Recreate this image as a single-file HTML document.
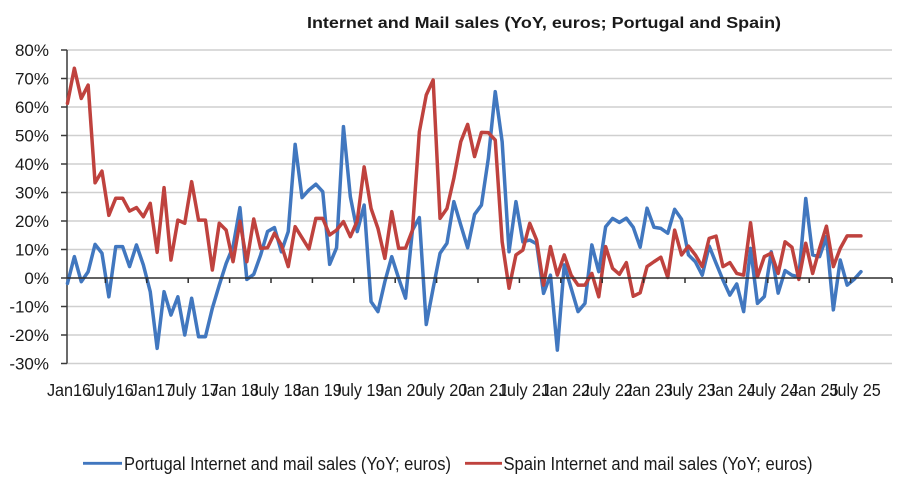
<!DOCTYPE html>
<html>
<head>
<meta charset="utf-8">
<style>
  html, body { margin: 0; padding: 0; background: #ffffff; }
  svg { display: block; }
  text { font-family: "Liberation Sans", Arial, sans-serif; fill: #1a1a1a; }
</style>
</head>
<body>
<svg width="910" height="490" viewBox="0 0 910 490" xmlns="http://www.w3.org/2000/svg">
  <rect x="0" y="0" width="910" height="490" fill="#ffffff"/>

  <!-- Title -->
  <text x="544" y="28" text-anchor="middle" font-size="16" font-weight="bold" textLength="474" lengthAdjust="spacingAndGlyphs">Internet and Mail sales (YoY, euros; Portugal and Spain)</text>

  <!-- Gridlines -->
  <g stroke="#cfcfcf" stroke-width="1.6">
    <line x1="67" y1="50" x2="892" y2="50"/>
    <line x1="67" y1="78.5" x2="892" y2="78.5"/>
    <line x1="67" y1="107" x2="892" y2="107"/>
    <line x1="67" y1="135.5" x2="892" y2="135.5"/>
    <line x1="67" y1="164" x2="892" y2="164"/>
    <line x1="67" y1="192.5" x2="892" y2="192.5"/>
    <line x1="67" y1="221" x2="892" y2="221"/>
    <line x1="67" y1="249.5" x2="892" y2="249.5"/>
    <line x1="67" y1="306.5" x2="892" y2="306.5"/>
    <line x1="67" y1="335" x2="892" y2="335"/>
    <line x1="67" y1="363.5" x2="892" y2="363.5"/>
  </g>

  <!-- Y axis -->
  <g stroke="#3a3a3a" stroke-width="1.5">
    <line x1="67" y1="50" x2="67" y2="363.5"/>
    <line x1="61" y1="50" x2="67" y2="50"/>
    <line x1="61" y1="78.5" x2="67" y2="78.5"/>
    <line x1="61" y1="107" x2="67" y2="107"/>
    <line x1="61" y1="135.5" x2="67" y2="135.5"/>
    <line x1="61" y1="164" x2="67" y2="164"/>
    <line x1="61" y1="192.5" x2="67" y2="192.5"/>
    <line x1="61" y1="221" x2="67" y2="221"/>
    <line x1="61" y1="249.5" x2="67" y2="249.5"/>
    <line x1="61" y1="278" x2="67" y2="278"/>
    <line x1="61" y1="306.5" x2="67" y2="306.5"/>
    <line x1="61" y1="335" x2="67" y2="335"/>
    <line x1="61" y1="363.5" x2="67" y2="363.5"/>
  </g>

  <!-- Y labels -->
  <g font-size="17" text-anchor="end">
    <text x="49" y="56">80%</text>
    <text x="49" y="84.5">70%</text>
    <text x="49" y="113">60%</text>
    <text x="49" y="141.5">50%</text>
    <text x="49" y="170">40%</text>
    <text x="49" y="198.5">30%</text>
    <text x="49" y="227">20%</text>
    <text x="49" y="255.5">10%</text>
    <text x="49" y="284">0%</text>
    <text x="49" y="312.5">-10%</text>
    <text x="49" y="341">-20%</text>
    <text x="49" y="369.5">-30%</text>
  </g>

  <!-- Series: Portugal -->
  <g transform="translate(67.45,278) scale(6.9,-2.85)">
    <polyline fill="none" stroke="#4177bf" stroke-width="3.5" stroke-linejoin="round" stroke-linecap="round" vector-effect="non-scaling-stroke"
      points="0,-1.9 1,7.5 2,-1.3 3,2.2 4,11.8 5,8.7 6,-6.6 7,11 8,11 9,4 10,11.6 11,4.6 12,-4.8 13,-24.7 14,-4.8 15,-13 16,-6.6 17,-20 18,-7.1 19,-20.6 20,-20.6 21,-10.6 22,-2.5 23,5.1 24,11 25,24.7 26,-0.5 27,1.3 28,8.1 29,16.3 30,17.7 31,9.2 32,16.3 33,46.9 34,28.2 35,30.9 36,32.9 37,30.3 38,4.8 39,10.6 40,53.1 41,28.5 42,16.3 43,25.6 44,-8.3 45,-11.8 46,-1.3 47,7.5 48,-0.1 49,-7.1 50,16.8 51,21.2 52,-16.3 53,-3.6 54,8.7 55,12.2 56,26.8 57,18.6 58,10.6 59,22.3 60,25.6 61,42 62,65.4 63,47.8 64,9.2 65,26.8 66,12.7 67,13.3 68,12 69,-5.4 70,1 71,-25.3 72,4.6 73,-3.6 74,-11.8 75,-8.9 76,11.6 77,2.2 78,18 79,20.9 80,19.5 81,21 82,17.8 83,10.8 84,24.5 85,17.8 86,17.4 87,15.7 88,24.1 89,20.6 90,8.1 91,5.7 92,1 93,11.2 94,5.2 95,-0.7 96,-6 97,-2.1 98,-11.8 99,10.4 100,-8.9 101,-6.5 102,9.2 103,-5.3 104,2.6 105,1 106,0.4 107,27.9 108,8.1 109,7.5 110,14.5 111,-11.2 112,6.3 113,-2.5 114,-0.5 115,2.2"/>
  </g>

  <!-- Series: Spain -->
  <g transform="translate(67.45,278) scale(6.9,-2.85)">
    <polyline fill="none" stroke="#bf423e" stroke-width="3.5" stroke-linejoin="round" stroke-linecap="round" vector-effect="non-scaling-stroke"
      points="0,61.3 1,73.6 2,63 3,67.7 4,33.4 5,37.5 6,22 7,28 8,28 9,23.5 10,24.7 11,21.5 12,26.2 13,9 14,31.7 15,6.3 16,20.3 17,19.2 18,33.8 19,20.3 20,20.3 21,2.8 22,19.2 23,16.8 24,5.7 25,19.9 26,5.7 27,20.7 28,10.4 29,10.6 30,15.7 31,11.6 32,4 33,18 34,14.1 35,10.2 36,20.9 37,20.9 38,15.1 39,16.8 40,19.8 41,14.5 42,20 43,39 44,24.4 45,17.4 46,6.9 47,23.3 48,10.4 49,10.5 50,16.8 51,51.3 52,64.2 53,69.5 54,20.9 55,24.4 56,35 57,47.8 58,53.9 59,42.6 60,51.1 61,51 62,48.4 63,12.7 64,-3.6 65,8.1 66,9.8 67,19.2 68,13.3 69,-2.5 70,11 71,1 72,8.1 73,1 74,-2.5 75,-2.5 76,1.6 77,-6.6 78,11 79,3.4 80,1.3 81,5.4 82,-6.4 83,-5.2 84,4 85,5.7 86,7.3 87,0.2 88,16.8 89,8.1 90,11.2 91,8.1 92,4 93,13.9 94,14.7 95,4 96,5.4 97,1.6 98,1 99,19.4 100,0.4 101,7.5 102,8.7 103,1.6 104,12.7 105,10.8 106,-0.5 107,12.2 108,1.6 109,10.4 110,18.2 111,4 112,10.4 113,14.8 114,14.8 115,14.8"/>
  </g>

  <!-- X axis (0% line) and ticks -->
  <g stroke="#2e2e2e" stroke-width="1.5">
    <line x1="67" y1="278" x2="892" y2="278"/>
    <line x1="105.4" y1="278" x2="105.4" y2="283"/>
    <line x1="146.8" y1="278" x2="146.8" y2="283"/>
    <line x1="188.2" y1="278" x2="188.2" y2="283"/>
    <line x1="229.6" y1="278" x2="229.6" y2="283"/>
    <line x1="271" y1="278" x2="271" y2="283"/>
    <line x1="312.4" y1="278" x2="312.4" y2="283"/>
    <line x1="353.8" y1="278" x2="353.8" y2="283"/>
    <line x1="395.2" y1="278" x2="395.2" y2="283"/>
    <line x1="436.6" y1="278" x2="436.6" y2="283"/>
    <line x1="478" y1="278" x2="478" y2="283"/>
    <line x1="519.4" y1="278" x2="519.4" y2="283"/>
    <line x1="560.8" y1="278" x2="560.8" y2="283"/>
    <line x1="602.2" y1="278" x2="602.2" y2="283"/>
    <line x1="643.6" y1="278" x2="643.6" y2="283"/>
    <line x1="685" y1="278" x2="685" y2="283"/>
    <line x1="726.4" y1="278" x2="726.4" y2="283"/>
    <line x1="767.8" y1="278" x2="767.8" y2="283"/>
    <line x1="809.2" y1="278" x2="809.2" y2="283"/>
    <line x1="850.6" y1="278" x2="850.6" y2="283"/>
    <line x1="892" y1="278" x2="892" y2="283"/>
  </g>

  <!-- X labels -->
  <g font-size="18" text-anchor="middle">
    <text transform="translate(69,396) scale(0.9,1)">Jan16</text>
    <text transform="translate(110.4,396) scale(0.9,1)">July16</text>
    <text transform="translate(151.8,396) scale(0.9,1)">Jan17</text>
    <text transform="translate(193.2,396) scale(0.9,1)">July 17</text>
    <text transform="translate(234.6,396) scale(0.9,1)">Jan 18</text>
    <text transform="translate(276,396) scale(0.9,1)">July 18</text>
    <text transform="translate(317.4,396) scale(0.9,1)">Jan 19</text>
    <text transform="translate(358.8,396) scale(0.9,1)">July 19</text>
    <text transform="translate(400.2,396) scale(0.9,1)">Jan 20</text>
    <text transform="translate(441.6,396) scale(0.9,1)">July 20</text>
    <text transform="translate(483,396) scale(0.9,1)">Jan 21</text>
    <text transform="translate(524.4,396) scale(0.9,1)">July 21</text>
    <text transform="translate(565.8,396) scale(0.9,1)">Jan 22</text>
    <text transform="translate(607.2,396) scale(0.9,1)">July 22</text>
    <text transform="translate(648.6,396) scale(0.9,1)">Jan 23</text>
    <text transform="translate(690,396) scale(0.9,1)">July 23</text>
    <text transform="translate(731.4,396) scale(0.9,1)">Jan 24</text>
    <text transform="translate(772.8,396) scale(0.9,1)">July 24</text>
    <text transform="translate(814.2,396) scale(0.9,1)">Jan 25</text>
    <text transform="translate(855.1,396) scale(0.9,1)">July 25</text>
  </g>

  <!-- Legend -->
  <line x1="83" y1="463.3" x2="122" y2="463.3" stroke="#4177bf" stroke-width="2.8"/>
  <text x="124" y="470" font-size="18" textLength="327" lengthAdjust="spacingAndGlyphs">Portugal Internet and mail sales (YoY; euros)</text>
  <line x1="465" y1="463.3" x2="502" y2="463.3" stroke="#bf423e" stroke-width="2.8"/>
  <text x="503.5" y="470" font-size="18" textLength="309" lengthAdjust="spacingAndGlyphs">Spain Internet and mail sales (YoY; euros)</text>
</svg>
</body>
</html>
